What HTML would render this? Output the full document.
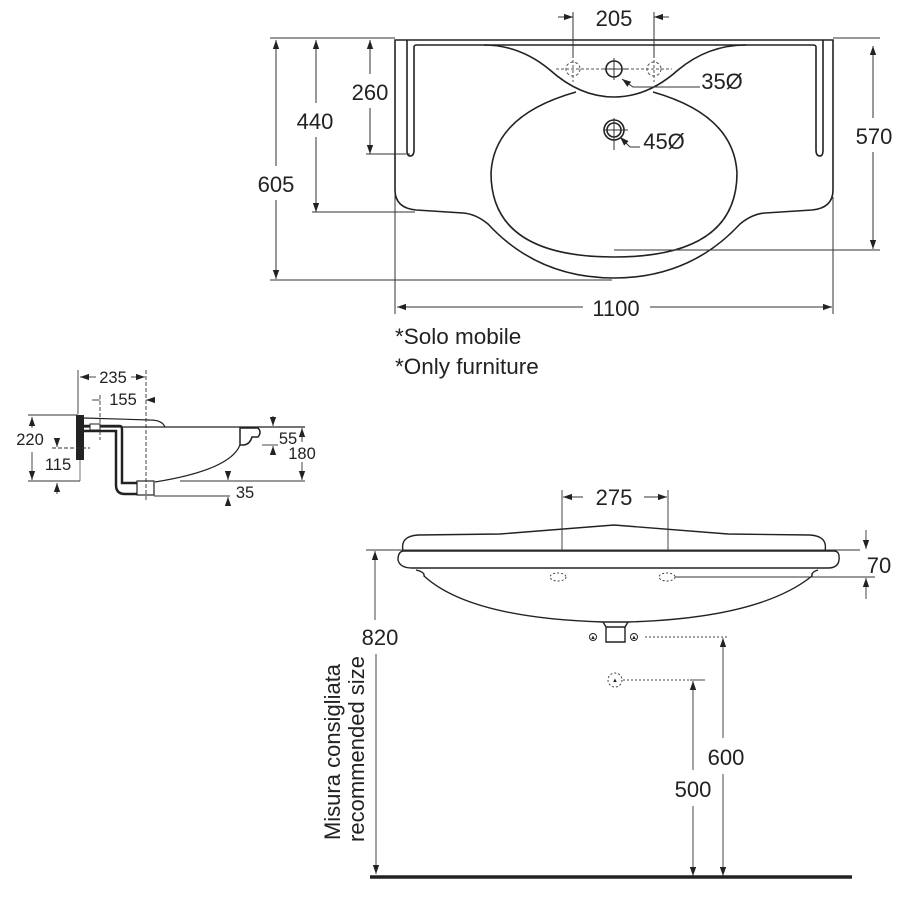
<!DOCTYPE html>
<html><head><style>
html,body{margin:0;padding:0;background:#fff;}
svg{display:block;}
text{font-family:"Liberation Sans",Arial,sans-serif;fill:#222;}
</style></head><body>
<svg width="900" height="900" viewBox="0 0 900 900" xmlns="http://www.w3.org/2000/svg">
<defs>
<marker id="a" viewBox="0 0 10 10" refX="10" refY="5" markerWidth="9" markerHeight="9" orient="auto-start-reverse" markerUnits="userSpaceOnUse"><path d="M0,1.5 L10,5 L0,8.5 z" fill="#222"/></marker>
</defs>
<g stroke="#222" fill="none" stroke-width="1.6">
<path d="M395,40 L833,40 L833,190 Q833,208 812,210 L765,213 Q752,214 740,224 Q690,278 614,278 Q538,278 488,224 Q476,214 463,213 L416,210 Q395,208 395,190 Z"/>
<path d="M407,40 L407,150 Q407,156 410,156 Q414,156 414,150 L414,47 Q414,45 417,45 L813,45 Q816,45 816,47 L816,150 Q816,156 820,156 Q823,156 823,150 L823,40"/>
<path d="M484,45 Q520,45 550,70 Q580,97 614,97 Q648,97 678,70 Q708,45 746,45"/>
<path d="M576,92 Q494,115 491,173 Q491,257 614,257 Q737,257 737,173 Q734,115 653,92"/>
<circle cx="614" cy="69" r="8"/>
<circle cx="614" cy="130" r="10"/><circle cx="614" cy="130" r="7"/>
</g>
<g stroke="#555" fill="none" stroke-width="1" stroke-dasharray="3,2">
<circle cx="573" cy="69" r="7"/><circle cx="654" cy="69" r="7"/>
<line x1="556" y1="69" x2="672" y2="69"/>
<line x1="573" y1="55" x2="573" y2="82"/><line x1="654" y1="55" x2="654" y2="82"/>
</g>
<g stroke="#333" fill="none" stroke-width="1">
<line x1="604" y1="130" x2="628" y2="130"/><line x1="614" y1="118" x2="614" y2="150"/>
<line x1="604" y1="69" x2="628" y2="69"/><line x1="614" y1="58" x2="614" y2="80"/>
<line x1="270" y1="38" x2="395" y2="38"/>
<line x1="276" y1="40" x2="276" y2="166" marker-start="url(#a)"/><line x1="276" y1="200" x2="276" y2="279" marker-end="url(#a)"/>
<line x1="270" y1="280" x2="612" y2="280"/>
<line x1="316" y1="40" x2="316" y2="103" marker-start="url(#a)"/><line x1="316" y1="137" x2="316" y2="212" marker-end="url(#a)"/>
<line x1="312" y1="212" x2="415" y2="212"/>
<line x1="370" y1="40" x2="370" y2="74" marker-start="url(#a)"/><line x1="370" y1="108" x2="370" y2="154" marker-end="url(#a)"/>
<line x1="366" y1="154" x2="410" y2="154"/>
<line x1="833" y1="38" x2="880" y2="38"/>
<line x1="873" y1="46" x2="873" y2="118" marker-start="url(#a)"/><line x1="873" y1="152" x2="873" y2="249" marker-end="url(#a)"/>
<line x1="614" y1="250" x2="880" y2="250"/>
<line x1="395" y1="195" x2="395" y2="314"/><line x1="833" y1="197" x2="833" y2="314"/>
<line x1="397" y1="307" x2="583" y2="307" marker-start="url(#a)"/><line x1="650" y1="307" x2="832" y2="307" marker-end="url(#a)"/>
<line x1="573" y1="12" x2="573" y2="58"/><line x1="654" y1="12" x2="654" y2="58"/>
<line x1="558" y1="17" x2="573" y2="17" marker-end="url(#a)"/><line x1="669" y1="17" x2="654" y2="17" marker-end="url(#a)"/>
<polyline points="700,87 633,87 622,79" marker-end="url(#a)"/>
<polyline points="640,147 630,147 620,137" marker-end="url(#a)"/>
</g>
<g font-size="22" text-anchor="middle">
<text x="614" y="26">205</text>
<text x="722" y="89">35Ø</text>
<text x="664" y="149">45Ø</text>
<text x="276" y="192">605</text>
<text x="315" y="129">440</text>
<text x="370" y="100">260</text>
<text x="874" y="144">570</text>
<text x="616" y="316">1100</text>
</g>
<text x="395" y="344" font-size="22.5">*Solo mobile</text>
<text x="395" y="374" font-size="22.5">*Only furniture</text>

<g stroke="#222" fill="none" stroke-width="1.2">
<path d="M84,418 L150,420 Q162,420 165,427"/>
<line x1="84" y1="427" x2="305" y2="427"/>
<path d="M240,445 Q230,470 155,482"/>
<path d="M240,428 L258,428 Q262,432 258,437 L252,437 Q250,444 244,445 L240,445 Z" stroke-width="1.5"/>
<path d="M84,426 L120,426 Q122,426 122,430 L122,483 L137,483 M84,431 L116,431 L116,485 Q116,494 125,494 L137,494" stroke-width="2.5"/>
<rect x="137" y="481" width="17" height="14"/>
<line x1="80" y1="460" x2="80" y2="481" stroke="#888"/>
</g>
<rect x="76" y="415" width="8" height="45" fill="#222"/>
<rect x="90" y="424" width="10" height="6" fill="#fff" stroke="#222"/>
<g stroke="#333" fill="none" stroke-width="0.9">
<line x1="78" y1="370" x2="78" y2="414"/>
<line x1="146" y1="370" x2="146" y2="500" stroke-dasharray="4,2"/>
<line x1="80" y1="377" x2="96" y2="377" marker-start="url(#a)"/><line x1="131" y1="377" x2="145" y2="377" marker-end="url(#a)"/>
<line x1="100" y1="395" x2="100" y2="440" stroke-dasharray="4,2"/>
<line x1="92" y1="400" x2="100" y2="400"/><line x1="154" y1="400" x2="146" y2="400" marker-end="url(#a)"/>
<line x1="28" y1="415" x2="78" y2="415"/><line x1="28" y1="481" x2="80" y2="481"/>
<line x1="32" y1="417" x2="32" y2="428" marker-start="url(#a)"/><line x1="32" y1="452" x2="32" y2="480" marker-end="url(#a)"/>
<line x1="52" y1="448" x2="90" y2="448" stroke-dasharray="4,2"/>
<line x1="57" y1="438" x2="57" y2="447" marker-end="url(#a)"/><line x1="57" y1="494" x2="57" y2="483" marker-end="url(#a)"/>
<line x1="273" y1="416" x2="273" y2="426" marker-end="url(#a)"/><line x1="273" y1="455" x2="273" y2="446" marker-end="url(#a)"/>
<line x1="262" y1="445" x2="278" y2="445"/>
<line x1="302" y1="428" x2="302" y2="442" marker-start="url(#a)"/><line x1="302" y1="462" x2="302" y2="480" marker-end="url(#a)"/>
<line x1="180" y1="481" x2="305" y2="481"/>
<line x1="154" y1="496" x2="230" y2="496"/>
<line x1="228" y1="472" x2="228" y2="480" marker-end="url(#a)"/><line x1="228" y1="505" x2="228" y2="497" marker-end="url(#a)"/>
</g>
<g font-size="16.5" text-anchor="middle">
<text x="113" y="383">235</text>
<text x="123" y="405">155</text>
<text x="30" y="445">220</text>
<text x="58" y="470">115</text>
<text x="288" y="444">55</text>
<text x="302" y="459">180</text>
<text x="245" y="498">35</text>
</g>

<g stroke="#222" fill="none" stroke-width="1.4">
<path d="M403,551 Q400,536 418,535 L500,534 L614,525 L728,534 L810,535 Q828,536 825,551"/>
<path d="M404,551 L834,551 Q840,551 839,560 Q838,568 828,568 L412,568 Q400,568 398,560 Q398,551 404,551 Z"/>
<path d="M416,570 Q425,572 424,576 Q470,618 603,622 L628,622 Q760,618 812,576 Q811,572 818,570"/>
<path d="M603,622 L606,627 L625,627 L628,622 M606,627 L606,642 L625,642 L625,627"/>
<circle cx="593" cy="637" r="3.5" stroke-width="1"/><circle cx="634" cy="637" r="3.5" stroke-width="1"/>
</g>
<g font-size="6" text-anchor="middle"><text x="593" y="639">▲</text><text x="634" y="639">▲</text><text x="615" y="682">▲</text></g>
<g stroke="#444" fill="none" stroke-width="1" stroke-dasharray="2,2">
<ellipse cx="558" cy="577" rx="8" ry="4"/><ellipse cx="667" cy="577" rx="8" ry="4"/>
<circle cx="615" cy="680" r="7"/>
<line x1="645" y1="637" x2="728" y2="637"/>
<line x1="623" y1="680" x2="690" y2="680"/>
</g>
<g stroke="#333" fill="none" stroke-width="0.9">
<line x1="562" y1="490" x2="562" y2="551"/><line x1="668" y1="490" x2="668" y2="551"/>
<line x1="563" y1="497" x2="583" y2="497" marker-start="url(#a)"/><line x1="644" y1="497" x2="667" y2="497" marker-end="url(#a)"/>
<line x1="366" y1="550" x2="860" y2="550"/>
<line x1="866" y1="530" x2="866" y2="549" marker-end="url(#a)"/><line x1="866" y1="599" x2="866" y2="578" marker-end="url(#a)"/>
<line x1="675" y1="577" x2="875" y2="577"/>
<line x1="723" y1="638" x2="723" y2="738" marker-start="url(#a)"/><line x1="723" y1="774" x2="723" y2="876" marker-end="url(#a)"/>
<line x1="690" y1="680" x2="705" y2="680"/>
<line x1="693" y1="681" x2="693" y2="770" marker-start="url(#a)"/><line x1="693" y1="806" x2="693" y2="876" marker-end="url(#a)"/>
<line x1="375" y1="551" x2="375" y2="620" marker-start="url(#a)"/><line x1="376" y1="654" x2="376" y2="874" marker-end="url(#a)"/>
</g>
<line x1="370" y1="877" x2="852" y2="877" stroke="#222" stroke-width="3.5"/>
<g font-size="22" text-anchor="middle">
<text x="614" y="505">275</text>
<text x="879" y="573">70</text>
<text x="726" y="765">600</text>
<text x="693" y="797">500</text>
<text x="380" y="645">820</text>
<text transform="translate(340,752) rotate(-90)">Misura consigliata</text>
<text transform="translate(364,749) rotate(-90)">recommended size</text>
</g>
</svg>
</body></html>
